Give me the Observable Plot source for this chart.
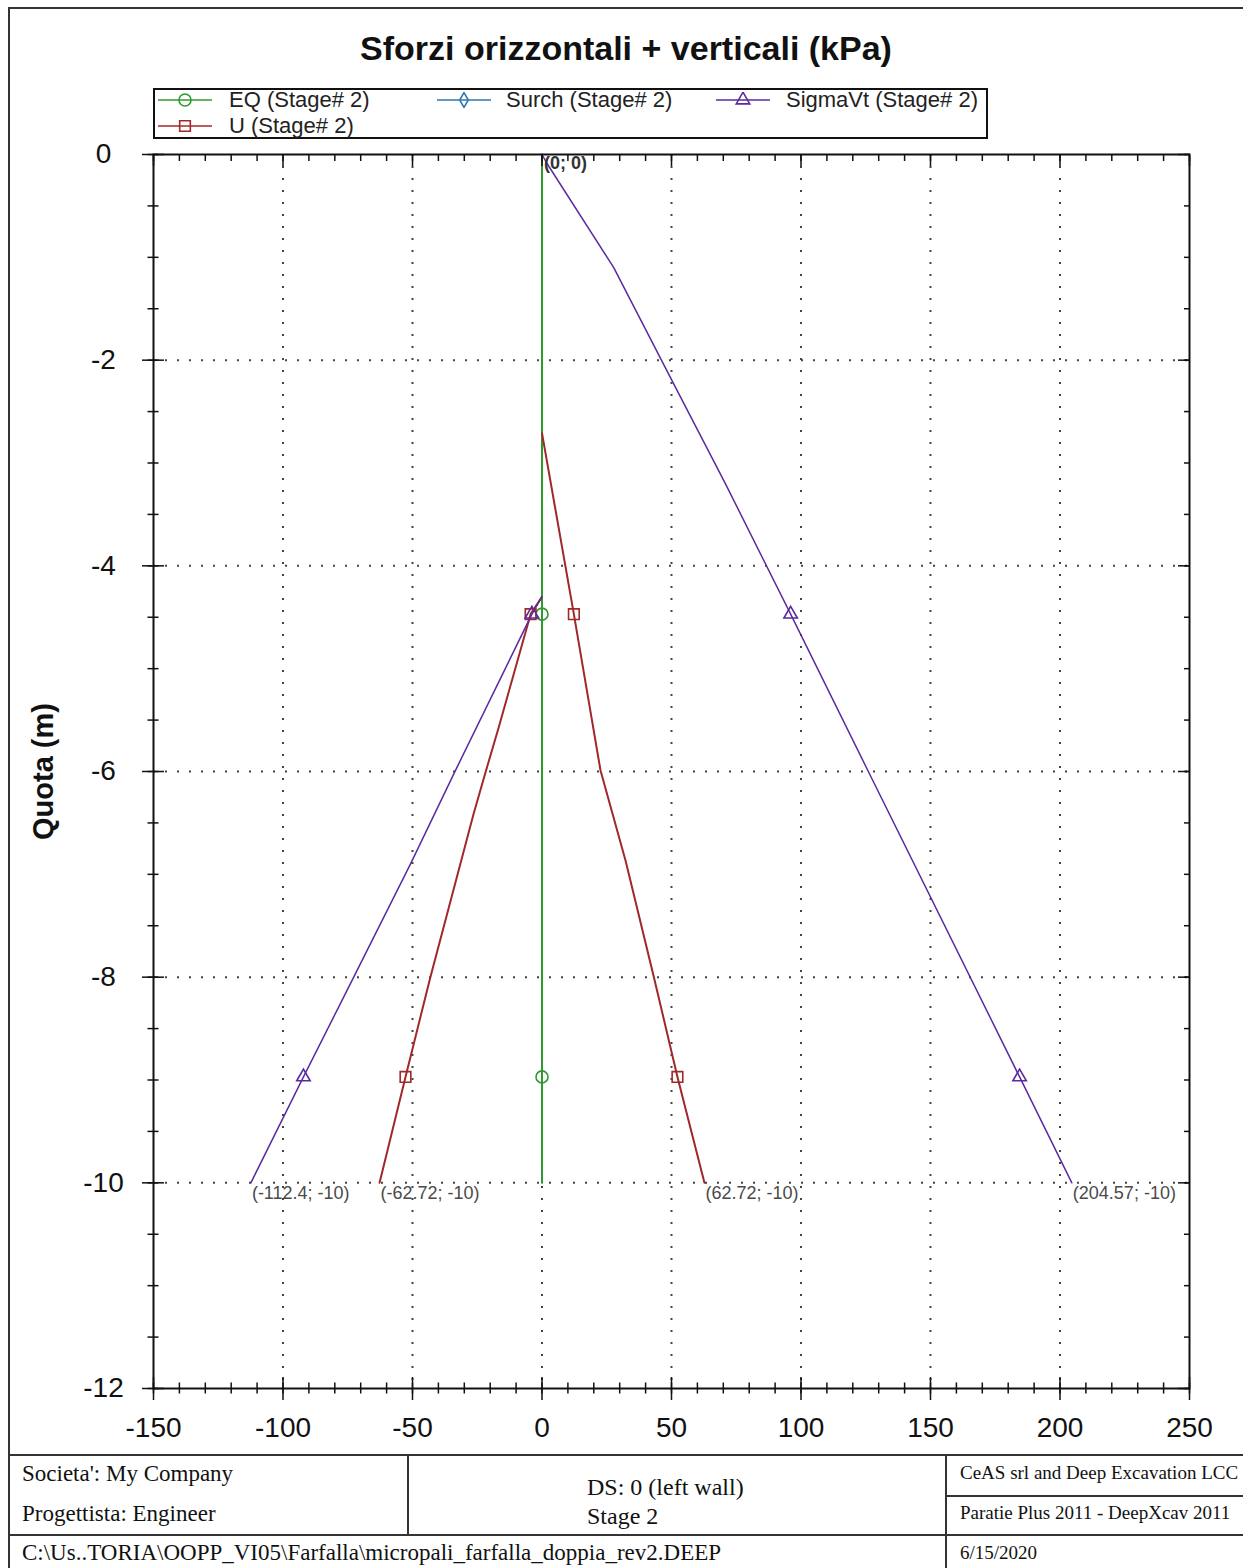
<!DOCTYPE html>
<html><head><meta charset="utf-8">
<script src="https://cdn.jsdelivr.net/npm/d3@7"></script>
<script src="https://cdn.jsdelivr.net/npm/@observablehq/plot@0.6"></script>
<style>
body{margin:0;background:#fff;}
#wrap{position:relative;width:1243px;height:1568px;overflow:hidden;background:#fff;font-family:"Liberation Sans",Arial,sans-serif;}
#chart{position:absolute;left:0;top:0;}
.abs{position:absolute;white-space:nowrap;}
.hl{position:absolute;height:2px;background:#333;}
.vl{position:absolute;width:2px;background:#333;}
.ser{font-family:"Liberation Serif","Times New Roman",serif;color:#111;}
.leg{font-size:22px;color:#222;line-height:26px;}
</style></head>
<body><div id="wrap">
<div id="chart"></div>
<div class="abs" style="left:8px;top:7px;width:1260px;height:1600px;border:2px solid #333;box-sizing:border-box;"></div>
<div class="abs" id="title" style="left:0;width:1252px;top:28px;text-align:center;font-weight:bold;font-size:34px;line-height:40px;color:#111;"></div>
<div id="legend" class="abs" style="left:153px;top:88px;width:835px;height:51px;border:2px solid #111;box-sizing:border-box;"></div>
<div id="footer"></div>
</div>
<script>
// ---------- data ----------
const titleText = "Sforzi orizzontali + verticali (kPa)";
const yLabel = "Quota (m)";
const seriesNames = ["EQ (Stage# 2)", "Surch (Stage# 2)", "SigmaVt (Stage# 2)", "U (Stage# 2)"];
const seriesColors = ["#2e9a2e", "#3676a8", "#5a2aa0", "#a0282a"];
const seriesSymbols = ["circle", "diamond", "triangle", "square"];

const eqDepth = [0, -4.47, -8.97, -10];
const eqStress = [0, 0, 0, 0];
const surchDepth = [0, -10];
const surchStress = [0, 0];
const sigmaRightDepth = [0, -0.09, -1.10, -2.17, -3.20, -4.47, -6.00, -8.97, -10];
const sigmaRightStress = [0, 2.0, 27.7, 49.6, 70.8, 96.0, 126.0, 184.4, 204.57];
const sigmaLeftDepth = [-4.30, -4.47, -6.02, -6.90, -8.00, -8.97, -10];
const sigmaLeftStress = [0, -3.9, -34.0, -50.8, -72.7, -92.1, -112.4];
const uRightDepth = [-2.71, -4.47, -5.99, -6.87, -8.00, -8.97, -10];
const uRightStress = [0, 12.3, 22.6, 32.3, 43.2, 52.3, 62.72];
const uLeftDepth = [-4.30, -4.47, -5.57, -5.99, -6.41, -8.00, -8.97, -10];
const uLeftStress = [0, -4.4, -16.7, -21.6, -26.4, -43.1, -52.7, -62.72];
const markerDepths = [-4.47, -8.97];

const endLabels = ["(-112.4; -10)", "(-62.72; -10)", "(62.72; -10)", "(204.57; -10)"];
const endLabelStress = [-112.4, -62.72, 62.72, 204.57];
const endLabelDepth = [-10, -10, -10, -10];
const originLabel = "(0; 0)";

const xTicks = [-150, -100, -50, 0, 50, 100, 150, 200, 250];
const yTicks = [0, -2, -4, -6, -8, -10, -12];
const xGrid = [-100, -50, 0, 50, 100, 150, 200];
const yGrid = [-2, -4, -6, -8, -10];
const xMinor = d3.range(-150, 251, 10);
const yMinor = d3.range(-12, 0.001, 0.5);

const footerLeft1 = "Societa': My Company";
const footerLeft2 = "Progettista: Engineer";
const footerMid1 = "DS: 0 (left wall)";
const footerMid2 = "Stage 2";
const footerPath = "C:\\Us..TORIA\\OOPP_VI05\\Farfalla\\micropali_farfalla_doppia_rev2.DEEP";
const footerRight1 = "CeAS srl and Deep Excavation LCC";
const footerRight2 = "Paratie Plus 2011 - DeepXcav 2011";
const footerDate = "6/15/2020";

// ---------- build ----------
function build(s, wall, stress, depth) {
  return stress.map((v, i) => ({s, key: s + wall, stress: v, depth: depth[i]}));
}
const rows = [
  ...build(1, "R", surchStress, surchDepth),
  ...build(0, "R", eqStress, eqDepth),
  ...build(3, "R", uRightStress, uRightDepth),
  ...build(3, "L", uLeftStress, uLeftDepth),
  ...build(2, "R", sigmaRightStress, sigmaRightDepth),
  ...build(2, "L", sigmaLeftStress, sigmaLeftDepth)
];
const markerRows = rows.filter(d => d.s !== 1 && markerDepths.includes(d.depth));
const labelRows = endLabels.map((t, i) => ({t, stress: endLabelStress[i], depth: endLabelDepth[i]}));
const widths = [2, 1.5, 1.5, 2];
const tickStyle = {stroke: "#111", strokeWidth: 1.5, label: null, tickFormat: () => ""};

const marks = [
  Plot.gridX(xGrid, {stroke: "#444", strokeOpacity: 1, strokeWidth: 2, strokeDasharray: "2,10"}),
  Plot.gridY(yGrid, {stroke: "#444", strokeOpacity: 1, strokeWidth: 2, strokeDasharray: "2,10"}),
];
[1, 0, 3, 2].forEach(s => {
  marks.push(Plot.line(rows.filter(d => d.s === s), {x: "stress", y: "depth", z: "key", stroke: seriesColors[s], strokeWidth: widths[s]}));
});
[0, 3, 2].forEach(s => {
  marks.push(Plot.dot(markerRows.filter(d => d.s === s), {x: "stress", y: "depth", symbol: seriesSymbols[s], r: s === 2 ? 5 : 6, stroke: seriesColors[s], strokeWidth: 1.6, fill: "none"}));
});
marks.push(
  Plot.text(labelRows, {x: "stress", y: "depth", text: "t", textAnchor: "start", dx: 1, dy: 10, fontSize: 18, fill: "#4a4a4a"}),
  Plot.text([originLabel], {x: () => 0, y: () => 0, text: d => d, textAnchor: "start", dx: 2, dy: 9, fontSize: 18, fontWeight: "bold", fill: "#333"}),
  Plot.frame({stroke: "#111", strokeWidth: 2}),
  Plot.axisX(xMinor, {anchor: "bottom", tickSize: 11, insetBottom: 5.5, ...tickStyle}),
  Plot.axisX(xTicks, {anchor: "bottom", tickSize: 23, insetBottom: 11, ...tickStyle}),
  Plot.axisX(xMinor, {anchor: "top", tickSize: 6, insetTop: 6, ...tickStyle}),
  Plot.axisX(xTicks, {anchor: "top", tickSize: 11, insetTop: 11, ...tickStyle}),
  Plot.axisY(yMinor, {anchor: "left", tickSize: 11, insetLeft: 5.5, ...tickStyle}),
  Plot.axisY(yTicks, {anchor: "left", tickSize: 22, insetLeft: 11, ...tickStyle}),
  Plot.axisY(yMinor, {anchor: "right", tickSize: 6, insetRight: 6, ...tickStyle}),
  Plot.axisY(yTicks, {anchor: "right", tickSize: 12, insetRight: 12, ...tickStyle}),
  Plot.axisX(xTicks, {anchor: "bottom", tickSize: 0, tickPadding: 29, fontSize: 28, fill: "#111", label: null, tickFormat: d => String(d)}),
  Plot.axisY(yTicks, {anchor: "left", tickSize: 0, tickPadding: 50, textAnchor: "middle", fontSize: 28, fill: "#111", label: null, tickFormat: d => String(d)}),
  Plot.text([yLabel], {frameAnchor: "left", text: d => d, rotate: -90, dx: -110, textAnchor: "middle", lineAnchor: "middle", fontSize: 29, fontWeight: "bold", fill: "#111"})
);

const chart = Plot.plot({
  width: 1243, height: 1455,
  marginLeft: 153, marginRight: 54, marginTop: 154, marginBottom: 67,
  x: {domain: [-150, 250]},
  y: {domain: [-12, 0]},
  style: {background: "transparent", fontFamily: "'Liberation Sans', Arial, sans-serif", overflow: "visible"},
  marks
});
document.getElementById("chart").appendChild(chart);
document.getElementById("title").textContent = titleText;

// ---------- legend ----------
const legend = document.getElementById("legend");
const legPos = [[158, 229, 100], [437, 506, 100], [716, 786, 100], [158, 229, 126]];
seriesNames.forEach((name, s) => {
  const [lx, tx, cy] = legPos[s];
  const svg = d3.create("svg").attr("width", 56).attr("height", 16)
    .style("position", "absolute").style("left", (lx - 155) + "px").style("top", (cy - 90 - 8) + "px");
  svg.append("line").attr("x1", 0).attr("x2", 54).attr("y1", 8).attr("y2", 8).attr("stroke", seriesColors[s]).attr("stroke-width", 1.6);
  const sym = {circle: d3.symbolCircle, diamond: d3.symbolDiamond, triangle: d3.symbolTriangle, square: d3.symbolSquare}[seriesSymbols[s]];
  const r = s === 1 ? 4.5 : s === 2 ? 5 : 6;
  svg.append("path").attr("d", d3.symbol(sym, Math.PI * r * r)()).attr("transform", "translate(27,8)")
    .attr("fill", "none").attr("stroke", seriesColors[s]).attr("stroke-width", 1.6);
  legend.appendChild(svg.node());
  const t = document.createElement("div");
  t.className = "abs leg";
  t.style.left = (tx - 155) + "px";
  t.style.top = (cy - 90 - 13) + "px";
  t.textContent = name;
  legend.appendChild(t);
});

// ---------- footer ----------
const footer = document.getElementById("footer");
function add(html) { footer.insertAdjacentHTML("beforeend", html); }
add(`<div class="hl" style="left:8px;top:1454px;width:1235px;"></div>`);
add(`<div class="hl" style="left:8px;top:1534px;width:1235px;"></div>`);
add(`<div class="hl" style="left:946px;top:1495px;width:297px;"></div>`);
add(`<div class="vl" style="left:407px;top:1454px;height:81px;"></div>`);
add(`<div class="vl" style="left:945px;top:1454px;height:120px;"></div>`);
function txt(s, x, cy, size) {
  const d = document.createElement("div");
  d.className = "abs ser";
  d.style.left = x + "px"; d.style.top = (cy - size * 0.6) + "px";
  d.style.fontSize = size + "px"; d.style.lineHeight = (size * 1.2) + "px";
  d.textContent = s; footer.appendChild(d);
}
txt(footerLeft1, 22, 1474, 23);
txt(footerLeft2, 22, 1514, 23);
txt(footerMid1, 587, 1487, 24);
txt(footerMid2, 587, 1516, 24);
txt(footerPath, 22, 1553, 23);
txt(footerRight1, 960, 1473, 19);
txt(footerRight2, 960, 1513, 19);
txt(footerDate, 960, 1553, 19);
</script>
</body></html>
